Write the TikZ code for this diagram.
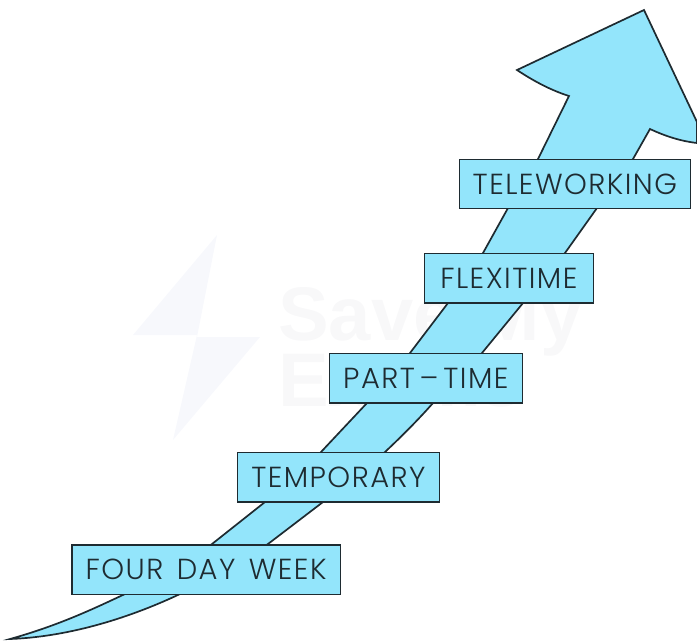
\documentclass[tikz,border=0pt]{standalone}
\usepackage{fontspec}
\setmainfont{Poppins Light}
\newfontfamily\wmfont{Liberation Sans}[Scale=1]
\definecolor{sky}{HTML}{93E5FB}
\definecolor{ink}{HTML}{1E2B31}
\definecolor{wmtext}{HTML}{F8F8F9}
\definecolor{wmbolt}{HTML}{F7F8FC}
\tikzset{
  stagebox/.style={draw=ink,fill=sky,line width=1.7pt,inner sep=0pt,anchor=north west,text=ink,font=\fontsize{29}{33}\selectfont},
  arrowbody/.style={draw=ink,fill=sky,line width=1.7pt,line join=miter},
}
\newcommand{\stage}[6]{\node[stagebox,minimum width=#4pt,minimum height=#5pt] (#1) at (#2,#3) {#6};}
\begin{document}
\begin{tikzpicture}[x=1pt,y=-1pt]
\useasboundingbox (0,0) rectangle (697,641);
% watermark
\fill[wmbolt] (217,235) -- (133,335) -- (197,335) -- (173,440) -- (260,337) -- (197,337) -- cycle;
\node[text=wmtext,font=\wmfont\bfseries\fontsize{76}{76}\selectfont,anchor=base west,inner sep=0pt] (wma) at (278,340) {Save My};
\node[text=wmtext,font=\wmfont\bfseries\fontsize{76}{76}\selectfont,anchor=base west,inner sep=0pt] (wmb) at (278,406) {Exams};
% arrow
\draw[arrowbody] (10,639)
  .. controls (60,625) and (95,608) .. (125,594)
  .. controls (160,578) and (190,560) .. (212,544)
  -- (265,502)
  .. controls (285,486) and (305,470) .. (321,452)
  -- (367,403)
  .. controls (385,385) and (398,370) .. (410,353)
  -- (448,303)
  .. controls (460,287) and (472,270) .. (483,253)
  -- (508,208) -- (538,159) -- (569,96)
  .. controls (550,90) and (532,80) .. (517,70)
  -- (644,10) -- (697,122) -- (697,143)
  .. controls (680,141) and (665,136) .. (650,129)
  -- (633,159) -- (597,208) -- (565,253) -- (523,303) -- (482,353) -- (433,403)
  .. controls (418,420) and (402,436) .. (385,452)
  .. controls (365,470) and (345,487) .. (323,502)
  -- (268,544)
  .. controls (240,562) and (210,580) .. (180,594)
  .. controls (125,620) and (65,637) .. (10,639) -- cycle;
% boxes
\stage{four}{71}{544}{268.5}{49.5}{\addfontfeatures{LetterSpace=5}FOUR\hspace{4pt} DAY\hspace{4pt} WEEK}
\stage{temp}{236.5}{451.5}{202}{49.5}{\addfontfeatures{LetterSpace=5}TEMPORARY}
\stage{part}{328.5}{352.5}{193}{49.5}{\addfontfeatures{LetterSpace=5}PART\,–\,TIME}
\stage{flexi}{423.5}{252.5}{169}{49.5}{\addfontfeatures{LetterSpace=5}FLEXITIME}
\stage{tele}{458.5}{158.5}{231}{49}{\addfontfeatures{LetterSpace=5}TELEWORKING}
\end{tikzpicture}
\end{document}
